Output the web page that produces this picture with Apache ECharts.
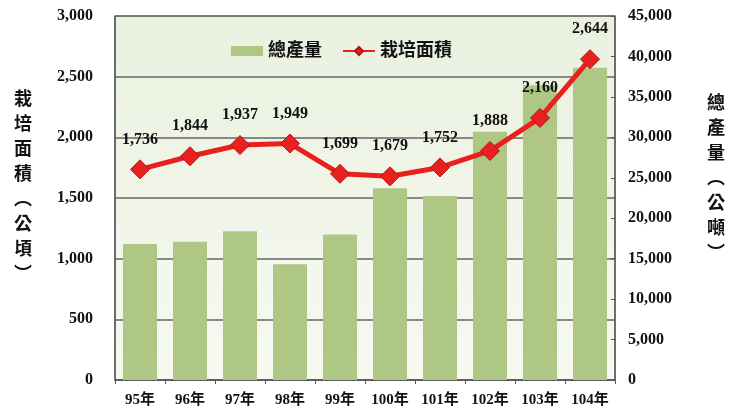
<!DOCTYPE html>
<html>
<head>
<meta charset="utf-8">
<script src="https://cdn.jsdelivr.net/npm/echarts@6/dist/echarts.min.js"></script>
<style>
  html, body { margin: 0; padding: 0; background: #fff; }
  #chart { width: 731px; height: 410px; }
</style>
</head>
<body>
<div id="chart"></div>
<script>
const years = ['95年', '96年', '97年', '98年', '99年', '100年', '101年', '102年', '103年', '104年']
// 總產量 (公噸)
const production = [16800, 17100, 18400, 14300, 18000, 23700, 22750, 30700, 36450, 38600]
// 栽培面積 (公頃)
const area = [1736, 1844, 1937, 1949, 1699, 1679, 1752, 1888, 2160, 2644]

const font = "'Liberation Serif', 'Noto Sans CJK TC', serif"
const fmt = v => v.toLocaleString('en-US')

// vertical axis titles
const nameStyle = (text) => ({
  text: text,
  font: 'bold 18px ' + font,
  lineHeight: 25,
  fill: '#111',
  textAlign: 'center'
})

const chart = echarts.init(document.getElementById('chart'))
chart.setOption({
  animation: false,
  textStyle: { fontFamily: font, fontWeight: 'bold', color: '#111' },
  grid: {
    left: 115,
    right: 116,
    top: 16,
    bottom: 30,
    show: true,
    borderColor: '#777',
    borderWidth: 1,
    backgroundColor: new echarts.graphic.LinearGradient(0, 0, 0, 1, [
      { offset: 0, color: '#eaf1df' },
      { offset: 1, color: '#f7f9f1' }
    ])
  },
  graphic: [
    { type: 'text', x: 23, y: 88, style: nameStyle('栽\n培\n面\n積\n︵\n公\n頃\n︶') },
    { type: 'text', x: 716, y: 92, style: nameStyle('總\n產\n量\n︵\n公\n噸\n︶') }
  ],
  legend: {
    left: 226,
    top: 37,
    itemWidth: 32,
    itemHeight: 10,
    itemGap: 20,
    textStyle: { fontFamily: font, fontWeight: 'bold', fontSize: 18, color: '#111' },
    data: [
      { name: '總產量', icon: 'rect' },
      { name: '栽培面積' }
    ]
  },
  xAxis: {
    type: 'category',
    data: years,
    axisLine: { lineStyle: { color: '#555', width: 1.5 } },
    axisTick: { show: true, length: 4, lineStyle: { color: '#555' } },
    axisLabel: { margin: 13, fontSize: 15, fontWeight: 'bold', color: '#111', fontFamily: font }
  },
  yAxis: [
    {
      type: 'value',
      min: 0,
      max: 3000,
      interval: 500,
      axisLine: { show: true, lineStyle: { color: '#555', width: 1.5 } },
      axisTick: { show: false },
      axisLabel: { margin: 22, fontSize: 16, fontWeight: 'bold', color: '#111', fontFamily: font, formatter: fmt },
      splitLine: { lineStyle: { color: '#666', width: 1.5 } }
    },
    {
      type: 'value',
      min: 0,
      max: 45000,
      interval: 5000,
      position: 'right',
      axisLine: { show: true, lineStyle: { color: '#555', width: 1.5 } },
      axisTick: { show: true, inside: true, length: 4, lineStyle: { color: '#555' } },
      axisLabel: { margin: 13, fontSize: 16, fontWeight: 'bold', color: '#111', fontFamily: font, formatter: fmt },
      splitLine: { show: false }
    }
  ],
  series: [
    {
      name: '總產量',
      type: 'bar',
      yAxisIndex: 1,
      barWidth: '68%',
      data: production,
      itemStyle: { color: '#afc785' }
    },
    {
      name: '栽培面積',
      type: 'line',
      yAxisIndex: 0,
      data: area,
      symbol: 'diamond',
      symbolSize: 19,
      lineStyle: { color: '#e8201e', width: 5 },
      itemStyle: { color: '#e8201e', borderColor: '#b8121a', borderWidth: 1 },
      label: {
        show: true,
        position: 'top',
        distance: 12,
        formatter: p => fmt(p.value),
        fontFamily: font,
        fontWeight: 'bold',
        fontSize: 16,
        color: '#111'
      },
      z: 5
    }
  ]
})
</script>
</body>
</html>
